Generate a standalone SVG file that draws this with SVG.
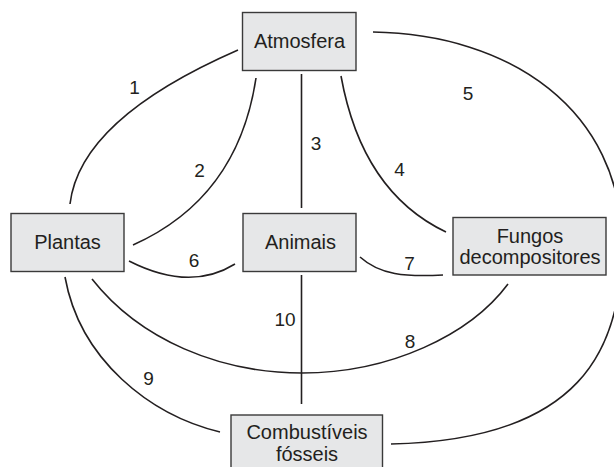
<svg xmlns="http://www.w3.org/2000/svg" width="614" height="467" viewBox="0 0 614 467">
<style>
.box{fill:#e6e7e8;stroke:#3a3a3a;stroke-width:1.4}
.lbl{font-family:"Liberation Sans",Arial,sans-serif;font-size:20px;fill:#231f20;text-anchor:middle}
.num{font-family:"Liberation Sans",Arial,sans-serif;font-size:19px;fill:#231f20;text-anchor:middle}
.con path{fill:none;stroke:#231f20;stroke-width:1.6}
</style>
<rect width="614" height="467" fill="#ffffff"/>
<g id="connectors" class="con">
<path d="M238,50 Q80,119 70,204"/>
<path d="M256,78 Q238,198 133,245"/>
<path d="M301.5,74 L301.5,208"/>
<path d="M341,76 Q362,192 446,232"/>
<path d="M373,32 C510,34 622,110 622,245 C622,350 580,440 391,444"/>
<path d="M129,261 Q190,292 235,264"/>
<path d="M360,257 C380,275 405,277 443,275"/>
<path d="M92,279 C140,340 220,373 302,373 C390,373 470,335 508,284"/>
<path d="M65,277 C80,360 150,415 220,432"/>
<path d="M301.5,275 L301.5,404"/>
</g>
<g id="labels">
<text class="num" x="134.5" y="94">1</text>
<text class="num" x="199.5" y="176.5">2</text>
<text class="num" x="316" y="150">3</text>
<text class="num" x="399.5" y="176">4</text>
<text class="num" x="468" y="99.5">5</text>
<text class="num" x="194" y="266.5">6</text>
<text class="num" x="409.5" y="269.5">7</text>
<text class="num" x="410" y="348">8</text>
<text class="num" x="148.5" y="385">9</text>
<text class="num" x="285" y="326">10</text>
</g>
<g id="atmosfera">
<rect class="box" x="242.5" y="12.5" width="113.5" height="58"/>
<text class="lbl" x="299.5" y="48">Atmosfera</text>
</g>
<g id="plantas">
<rect class="box" x="11" y="213.5" width="113" height="58"/>
<text class="lbl" x="67.5" y="249">Plantas</text>
</g>
<g id="animais">
<rect class="box" x="243" y="213.5" width="113" height="58"/>
<text class="lbl" x="300.5" y="249">Animais</text>
</g>
<g id="fungos">
<rect class="box" x="453" y="217.5" width="153" height="57.5"/>
<text class="lbl" x="530" y="243.3">Fungos</text>
<text class="lbl" x="530" y="264">decompositores</text>
</g>
<g id="combustiveis">
<rect class="box" x="231" y="415" width="151.5" height="60"/>
<text class="lbl" x="307" y="438.7">Combustíveis</text>
<text class="lbl" x="307" y="461">fósseis</text>
</g>
</svg>
